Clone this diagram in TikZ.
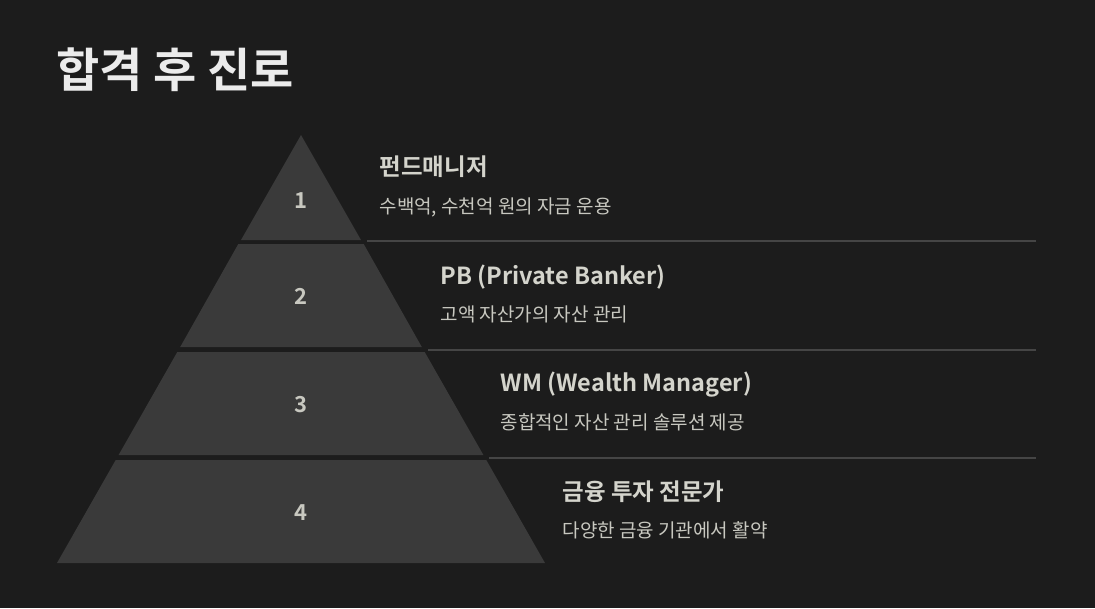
\documentclass[tikz,border=0pt]{standalone}
\usepackage{fontspec}
\setmainfont{Noto Sans CJK KR}
\newfontfamily\krb{Noto Sans CJK KR Bold}
\definecolor{bg}{HTML}{1C1C1C}
\definecolor{layer}{HTML}{3A3A3A}
\definecolor{sep}{HTML}{454545}
\definecolor{txt}{HTML}{D4D4CC}
\definecolor{sub}{HTML}{C8C8C0}
\begin{document}
\begin{tikzpicture}[x=1pt,y=-1pt,
  lay/.style={fill=layer,draw=none},
  sepline/.style={draw=sep,line width=1.5pt},
  num/.style={font=\krb\fontsize{22}{26}\selectfont,text=sub},
  head/.style={font=\krb\fontsize{23.5}{28}\selectfont,text=txt,anchor=west},
  desc/.style={font=\fontsize{19}{23}\selectfont,text=sub,anchor=west}]
\fill[bg] (0,0) rectangle (1095,608);
\useasboundingbox (0,0) rectangle (1095,608);
\node[font=\krb\fontsize{47}{56}\selectfont,text=white!92!black,anchor=west] (title) at (53,70) {합격 후 진로};
\fill[lay] (301,135) -- (361,240) -- (241,240) -- cycle;
\fill[lay] (238.3,244) -- (363.7,244) -- (421.8,347) -- (180.2,347) -- cycle;
\fill[lay] (177.3,352) -- (424.7,352) -- (483.4,455) -- (118.6,455) -- cycle;
\fill[lay] (115.7,460) -- (486.3,460) -- (545,563) -- (57,563) -- cycle;
\coordinate (a1) at (367,241); \coordinate (b1) at (1036,241);
\coordinate (a2) at (428,350); \coordinate (b2) at (1036,350);
\coordinate (a3) at (489,458); \coordinate (b3) at (1036,458);
\draw[sepline] (a1) -- (b1);
\draw[sepline] (a2) -- (b2);
\draw[sepline] (a3) -- (b3);
\node[num] (n1) at (301,201) {1};
\node[num] (n2) at (301,296) {2};
\node[num] (n3) at (301,405) {3};
\node[num] (n4) at (301,513) {4};
\node[head] (h1) at (376,167) {펀드매니저};
\node[desc] (d1) at (376,207) {수백억, 수천억 원의 자금 운용};
\node[head] (h2) at (437,277) {PB (Private Banker)};
\node[desc] (d2) at (437,314) {고액 자산가의 자산 관리};
\node[head] (h3) at (497,385) {WM (Wealth Manager)};
\node[desc] (d3) at (497,422) {종합적인 자산 관리 솔루션 제공};
\node[head] (h4) at (559,492) {금융 투자 전문가};
\node[desc] (d4) at (559,530) {다양한 금융 기관에서 활약};
\end{tikzpicture}
\end{document}
